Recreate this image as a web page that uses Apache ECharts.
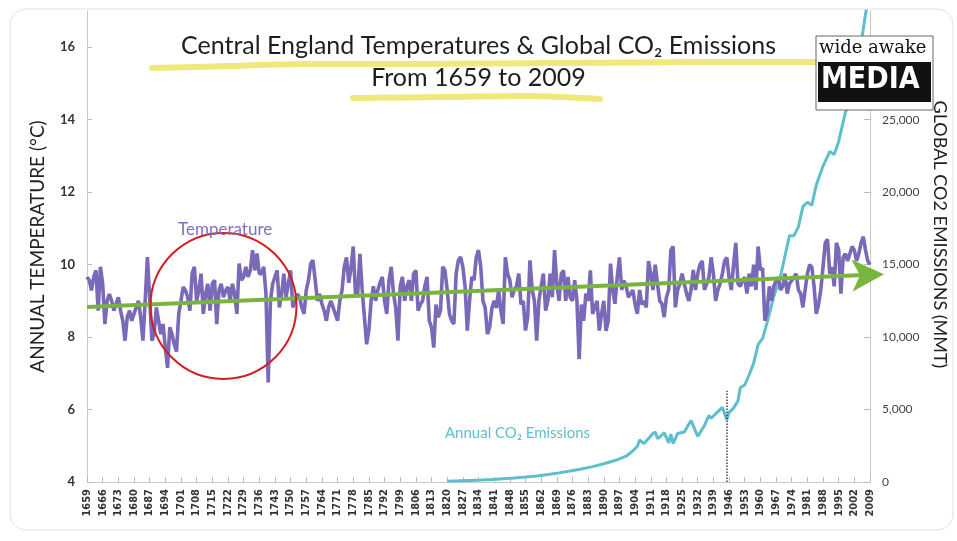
<!DOCTYPE html>
<html lang="en">
<head>
<meta charset="UTF-8">
<title>Central England Temperatures & Global CO2 Emissions</title>
<style>
  html, body { margin: 0; padding: 0; background: #fff; }
  #chart { width: 957px; height: 541px; }
</style>
</head>
<body>
<div id="chart"></div>
<script src="https://cdn.jsdelivr.net/npm/echarts@6/dist/echarts.min.js"></script>
<script>
// years on the x axis
const years = [];
for (let y = 1659; y <= 2009; y++) years.push(String(y));

// annual mean temperature (°C), 1659..2009
const temps = [
  9.66, 9.57, 9.29, 9.66, 9.84, 8.73, 9.94, 9.47, 8.36, 9.0,
  9.19, 9.0, 8.73, 8.92, 9.1, 8.73, 8.45, 7.9, 8.55, 8.73,
  8.45, 8.64, 8.82, 9.0, 8.55, 7.9, 9.0, 10.21, 9.1, 7.9,
  8.08, 8.82, 8.45, 8.08, 8.36, 7.71, 7.15, 8.27, 8.08, 7.8,
  7.6, 8.64, 9.0, 9.38, 9.29, 9.1, 8.73, 9.75, 9.94, 9.0,
  9.29, 9.75, 8.64, 9.19, 9.47, 8.73, 9.47, 9.57, 8.36, 9.29,
  9.47, 9.1, 9.29, 9.38, 9.0, 9.47, 9.19, 8.64, 10.03, 9.57,
  9.66, 9.94, 9.66, 9.84, 10.4, 9.84, 10.31, 9.75, 9.75, 9.94,
  9.19, 6.75, 9.0, 9.47, 9.66, 9.84, 8.82, 9.19, 9.75, 9.1,
  9.47, 9.84, 8.82, 9.0, 9.19, 9.1, 8.82, 8.64, 9.29, 9.57,
  10.03, 10.12, 9.57, 9.0, 9.19, 8.92, 8.73, 8.45, 8.82, 9.0,
  8.82, 8.64, 8.45, 9.0, 9.29, 9.94, 10.2, 9.5, 9.9, 10.5,
  9.2, 9.2, 10.3, 9.3, 8.55, 7.8, 8.2, 9.0, 9.4, 9.0,
  9.3, 9.5, 9.66, 9.0, 8.64, 9.57, 9.94, 9.2, 8.8, 7.9,
  9.4, 9.66, 9.0, 9.4, 9.57, 9.0, 9.75, 9.84, 8.73, 8.9,
  9.0, 9.4, 9.66, 8.45, 8.27, 7.71, 8.9, 8.55, 8.73, 9.94,
  9.84, 9.3, 8.64, 8.45, 8.36, 9.75, 10.12, 10.21, 9.94, 9.4,
  8.18, 9.0, 9.66, 9.57, 10.2, 10.4, 9.94, 9.0, 8.8, 8.08,
  8.27, 8.8, 9.0, 8.8, 9.3, 8.73, 8.36, 10.2, 9.75, 9.57,
  9.1, 9.3, 9.4, 9.75, 8.9, 9.0, 8.18, 8.55, 10.12, 9.3,
  9.0, 7.9, 9.0, 9.4, 9.75, 8.73, 9.0, 9.75, 9.1, 10.4,
  9.47, 9.0, 9.75, 9.84, 9.0, 9.66, 9.1, 9.0, 9.57, 9.0,
  7.39, 8.9, 8.45, 9.2, 9.0, 9.84, 8.64, 8.82, 9.0, 8.18,
  8.64, 9.0, 8.17, 8.45, 10.03, 9.29, 8.92, 9.65, 10.2, 9.3,
  9.56, 9.4, 9.1, 9.2, 9.3, 8.9, 8.64, 9.3, 8.9, 9.0,
  8.82, 10.1, 9.75, 9.3, 10.0, 9.47, 9.0, 8.92, 8.55, 9.1,
  9.3, 10.4, 10.5, 8.82, 9.3, 9.47, 9.75, 9.47, 9.2, 9.0,
  9.3, 9.85, 9.3, 9.75, 10.0, 10.1, 9.3, 9.47, 9.65, 10.2,
  9.75, 9.0, 9.3, 9.47, 9.75, 10.1, 10.2, 9.65, 9.3, 10.0,
  10.6, 9.47, 9.4, 9.56, 9.65, 9.2, 9.75, 9.4, 10.0, 9.3,
  10.5, 9.85, 9.9, 8.45, 8.7, 9.4, 9.0, 9.4, 9.56, 9.65,
  9.3, 9.4, 9.75, 9.2, 9.47, 9.56, 9.65, 9.75, 9.3, 9.2,
  8.82, 9.3, 9.75, 10.0, 9.93, 9.4, 8.64, 8.9, 9.3, 9.93,
  10.6, 10.7, 9.75, 9.93, 9.4, 10.6, 10.4, 9.2, 10.2, 10.3,
  10.1, 10.3, 10.5, 10.4, 10.1, 10.3, 10.6, 10.77, 10.4, 10.1,
  10.0
];

// global CO2 emissions (MMT)
const co2Years = [
  1820, 1825, 1830, 1835, 1840, 1845, 1850, 1855, 1860, 1865,
  1870, 1875, 1880, 1885, 1890, 1895, 1900, 1903, 1905, 1906,
  1908, 1910, 1912, 1913, 1914, 1915, 1917, 1919, 1920, 1921,
  1923, 1926, 1929, 1932, 1935, 1937, 1938, 1940, 1943, 1945,
  1946, 1948, 1950, 1951, 1953, 1955, 1957, 1959, 1961, 1963,
  1966, 1969, 1972, 1973, 1975, 1977, 1979, 1981, 1983, 1985,
  1988, 1991, 1993, 1995, 1998, 2000, 2003, 2005, 2007, 2009
];
const co2Values = [
  60, 80, 110, 140, 180, 230, 280, 340, 420, 520,
  630, 760, 900, 1060, 1260, 1480, 1780, 2150, 2450, 2900,
  2650, 3000, 3350, 3450, 3000, 3100, 3400, 2700, 3300, 2650,
  3350, 3450, 4250, 3150, 3900, 4600, 4400, 4700, 5150, 4300,
  4800, 5100, 5600, 6500, 6700, 7400, 8200, 9500, 9900, 11000,
  12800, 14200, 16300, 17000, 17000, 17600, 19000, 19300, 19100, 20500,
  21800, 22800, 22600, 23500, 25500, 26200, 28500, 30200, 32300, 34000
];

// trend line ends (°C) and the war-time marker
const trendStart = 8.83, trendEnd = 9.72;
const markerYear = '1945', markerTop = 6300;

const co2Data = co2Years.map((y, i) => [String(y), co2Values[i]]);

const chart = echarts.init(document.getElementById('chart'));
const sans = 'Lato, "Open Sans", sans-serif';

chart.setOption({
  animation: false,
  backgroundColor: '#fff',
  title: {
    text: 'Central England Temperatures & Global CO₂ Emissions\nFrom 1659 to 2009',
    left: 'center',
    top: 30,
    padding: 0,
    textStyle: { fontFamily: sans, fontSize: 25, fontWeight: 'normal', color: '#1e1e1e', lineHeight: 32 },
    z: 20
  },
  grid: { left: 87, right: 87, top: 11, bottom: 59 },
  xAxis: {
    type: 'category',
    data: years,
    boundaryGap: false,
    axisLine: { lineStyle: { color: '#c8c8c8' } },
    axisTick: { inside: true, length: 5, interval: 6, lineStyle: { color: '#bbb' } },
    axisLabel: {
      interval: 6, rotate: 90, margin: 7,
      fontFamily: '"DejaVu Sans Condensed", "DejaVu Sans", sans-serif',
      fontSize: 11, fontWeight: 'bold', color: '#333'
    }
  },
  yAxis: [{
    type: 'value',
    min: 4, max: 17, interval: 2,
    name: 'ANNUAL TEMPERATURE (°C)',
    nameLocation: 'middle', nameGap: 40,
    nameTextStyle: { fontFamily: sans, fontSize: 19, color: '#222' },
    splitLine: { show: false },
    axisLine: { show: true, lineStyle: { color: '#c8c8c8' } },
    axisTick: { show: true, inside: true, length: 5, lineStyle: { color: '#bbb' } },
    axisLabel: { showMaxLabel: false, margin: 12, fontFamily: sans, fontSize: 13, fontWeight: 'bold', color: '#333' }
  }, {
    type: 'value',
    min: 0, max: 32500, interval: 5000,
    name: 'GLOBAL CO2 EMISSIONS (MMT)',
    nameLocation: 'middle', nameGap: 60, nameRotate: -90,
    nameTextStyle: { fontFamily: sans, fontSize: 18, color: '#222', padding: [0, 24, 0, 0] },
    splitLine: { show: false },
    axisLine: { show: true, lineStyle: { color: '#c8c8c8' } },
    axisTick: { show: true, inside: true, length: 6, lineStyle: { color: '#bbb' } },
    axisLabel: {
      showMaxLabel: false, margin: 12, fontFamily: sans, fontSize: 12, color: '#444',
      formatter: v => v.toLocaleString('en-US')
    }
  }],
  series: [{
    name: 'Temperature',
    type: 'line',
    data: temps,
    symbol: 'none',
    clip: false,
    z: 4,
    lineStyle: { color: '#7a68b8', width: 3.6 },
    markLine: {
      silent: true,
      symbol: ['none', 'arrow'],
      symbolSize: [24, 32],
      symbolOffset: [0, [0, -14]],
      label: { show: false },
      lineStyle: { color: '#78b53e', width: 4, type: 'solid' },
      data: [[{ coord: [years[0], trendStart] }, { coord: [years[years.length - 1], trendEnd] }]]
    },
    markPoint: {
      silent: true,
      symbol: 'circle',
      symbolSize: 146,
      label: { show: false },
      itemStyle: { color: 'rgba(0,0,0,0)', borderColor: '#d21f24', borderWidth: 2 },
      data: [{ coord: ['1720', 8.86] }]
    }
  }, {
    name: 'Annual CO2 Emissions',
    type: 'line',
    yAxisIndex: 1,
    data: co2Data,
    symbol: 'none',
    z: 3,
    lineStyle: { color: '#5ebfcc', width: 3 },
    markLine: {
      silent: true,
      symbol: 'none',
      label: { show: false },
      lineStyle: { color: '#444', width: 1.5, type: 'dotted' },
      data: [[{ coord: [markerYear, 0] }, { coord: [markerYear, markerTop] }]]
    }
  }],
  graphic: [
    // card outline
    { type: 'rect', z: -10, shape: { x: 10, y: 9, width: 943, height: 521, r: 16 },
      style: { fill: '#fff', stroke: '#e2e2e2', lineWidth: 1 } },
    // highlighter strokes under the title
    { type: 'polyline', z: 5, shape: { points: [[152, 68], [230, 66], [300, 64], [420, 64], [560, 63], [700, 62], [815, 62]], smooth: 0.3 },
      style: { stroke: 'rgba(238,228,100,0.85)', lineWidth: 6, lineCap: 'round', fill: null } },
    { type: 'polyline', z: 5, shape: { points: [[353, 98], [450, 97], [530, 96], [600, 99]], smooth: 0.3 },
      style: { stroke: 'rgba(238,228,100,0.85)', lineWidth: 6, lineCap: 'round', fill: null } },
    // series labels
    { type: 'text', z: 10, left: 178, top: 221,
      style: { text: 'Temperature', font: '17px ' + sans, fill: '#8070c0' } },
    { type: 'text', z: 10, left: 445, top: 426,
      style: { text: 'Annual CO₂ Emissions', font: '15px ' + sans, fill: '#5ebfcc' } },
    // logo
    { type: 'rect', z: 30, shape: { x: 816, y: 36, width: 117, height: 74 },
      style: { fill: '#fff', stroke: '#666', lineWidth: 1 } },
    { type: 'text', z: 31, left: 819, top: 39,
      style: { text: 'wide awake', font: '18px "DejaVu Serif", "Liberation Serif", serif', fill: '#111' } },
    { type: 'rect', z: 31, shape: { x: 818, y: 62, width: 113, height: 40 },
      style: { fill: '#111' } },
    { type: 'text', z: 32, left: 821, top: 65,
      style: { text: 'MEDIA', font: 'bold 30px "DejaVu Sans Condensed", "Liberation Sans Narrow", sans-serif', fill: '#fff' } }
  ]
});
</script>
</body>
</html>
